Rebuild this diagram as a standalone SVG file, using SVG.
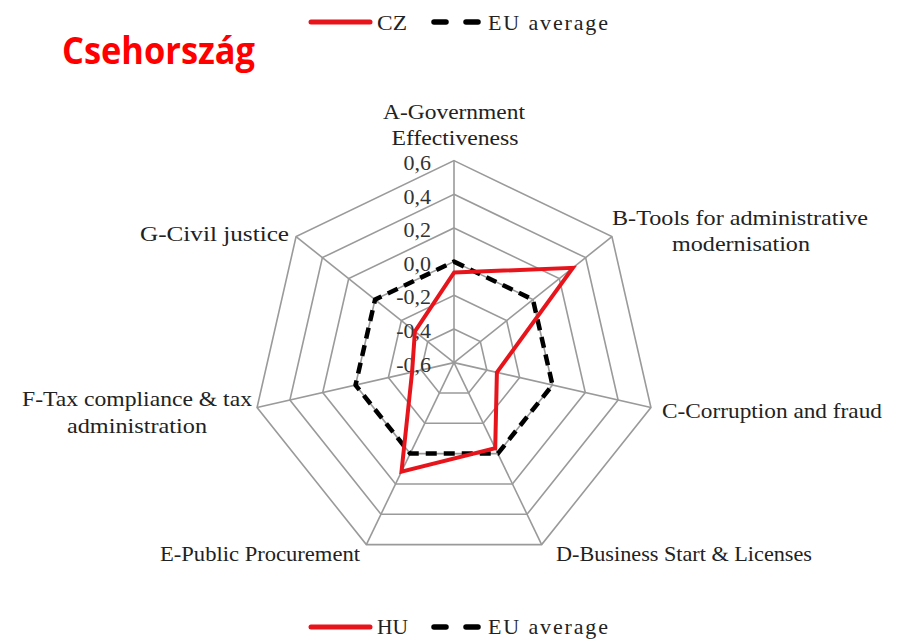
<svg xmlns="http://www.w3.org/2000/svg" width="899" height="639" viewBox="0 0 899 639">
<style>
.grid{fill:none;stroke:#9a9a9a;stroke-width:1.6;stroke-linejoin:miter}
.spoke{stroke:#9a9a9a;stroke-width:1.6}
.lbl{font-family:"Liberation Serif","Times New Roman",serif;font-size:22px;fill:#222}
.tick{font-family:"Liberation Serif","Times New Roman",serif;font-size:22px;fill:#333;text-anchor:end}
.eu{fill:none;stroke:#000;stroke-width:4.5;stroke-dasharray:11 7;stroke-linejoin:round}
.cz{fill:none;stroke:#e8141b;stroke-width:4;stroke-linejoin:miter}
</style>
<rect width="899" height="639" fill="#fff"/>
<g id="title"><text x="62" y="64" font-family="'Open Sans','Liberation Sans',sans-serif" font-weight="bold" font-size="37" fill="#ff0000" textLength="193" lengthAdjust="spacingAndGlyphs">Csehország</text></g>
<g id="legend-top">
<line x1="311" y1="22" x2="370" y2="22" stroke="#e8141b" stroke-width="5" stroke-linecap="round"/>
<text class="lbl" x="377" y="30" textLength="30" lengthAdjust="spacingAndGlyphs">CZ</text>
<line x1="434" y1="22" x2="446" y2="22" stroke="#000" stroke-width="5.5" stroke-linecap="round"/>
<line x1="466" y1="22" x2="478" y2="22" stroke="#000" stroke-width="5.5" stroke-linecap="round"/>
<text class="lbl" x="488" y="30" textLength="120" lengthAdjust="spacing">EU average</text>
</g>
<g id="grid">
<polygon class="grid" points="454,160.6 611.93,236.65 650.94,407.55 541.64,544.6 366.36,544.6 257.06,407.55 296.07,236.65"/>
<polygon class="grid" points="454,194.27 585.61,257.65 618.11,400.06 527.04,514.26 380.96,514.26 289.89,400.06 322.39,257.65"/>
<polygon class="grid" points="454,227.93 559.29,278.63 585.29,392.57 512.43,483.93 395.57,483.93 322.71,392.57 348.71,278.63"/>
<polygon class="grid" points="454,261.6 532.96,299.63 552.47,385.07 497.82,453.6 410.18,453.6 355.53,385.07 375.04,299.63"/>
<polygon class="grid" points="454,295.27 506.64,320.62 519.64,377.58 483.21,423.26 424.79,423.26 388.36,377.58 401.36,320.62"/>
<polygon class="grid" points="454,328.93 480.32,341.61 486.83,370.09 468.61,392.94 439.39,392.94 421.17,370.09 427.68,341.61"/>
<line class="spoke" x1="454" y1="362.6" x2="454" y2="160.6"/>
<line class="spoke" x1="454" y1="362.6" x2="611.93" y2="236.65"/>
<line class="spoke" x1="454" y1="362.6" x2="650.94" y2="407.55"/>
<line class="spoke" x1="454" y1="362.6" x2="541.64" y2="544.6"/>
<line class="spoke" x1="454" y1="362.6" x2="366.36" y2="544.6"/>
<line class="spoke" x1="454" y1="362.6" x2="257.06" y2="407.55"/>
<line class="spoke" x1="454" y1="362.6" x2="296.07" y2="236.65"/>
</g>
<g id="ticks">
<text class="tick" x="431" y="170">0,6</text>
<text class="tick" x="431" y="203.5">0,4</text>
<text class="tick" x="431" y="237">0,2</text>
<text class="tick" x="431" y="270.5">0,0</text>
<text class="tick" x="431" y="304">-0,2</text>
<text class="tick" x="431" y="338">-0,4</text>
<text class="tick" x="431" y="371.5">-0,6</text>
</g>
<g id="series">
<polygon id="eu-average" class="eu" points="454,261.6 532.96,299.63 552.47,385.07 497.82,453.6 410.18,453.6 355.53,385.07 375.04,299.63"/>
<polygon id="cz" class="cz" points="454,272.6 572.84,267.83 496.9,372.39 495.22,448.19 401.5,471.62 412.08,372.17 414.91,331.43"/>
</g>
<g id="axis-A"><text class="lbl" x="454" y="119" text-anchor="middle" textLength="142" lengthAdjust="spacingAndGlyphs">A-Government</text><text class="lbl" x="455" y="145" text-anchor="middle" textLength="127" lengthAdjust="spacingAndGlyphs">Effectiveness</text></g>
<g id="axis-B"><text class="lbl" x="612" y="225" textLength="256" lengthAdjust="spacingAndGlyphs">B-Tools for administrative</text><text class="lbl" x="672" y="251" textLength="138" lengthAdjust="spacingAndGlyphs">modernisation</text></g>
<g id="axis-C"><text class="lbl" x="662" y="418" textLength="220" lengthAdjust="spacingAndGlyphs">C-Corruption and fraud</text></g>
<g id="axis-D"><text class="lbl" x="556" y="561" textLength="256" lengthAdjust="spacingAndGlyphs">D-Business Start &amp; Licenses</text></g>
<g id="axis-E"><text class="lbl" x="160" y="561" textLength="200" lengthAdjust="spacingAndGlyphs">E-Public Procurement</text></g>
<g id="axis-F"><text class="lbl" x="22" y="406" textLength="230" lengthAdjust="spacingAndGlyphs">F-Tax compliance &amp; tax</text><text class="lbl" x="67" y="433" textLength="140" lengthAdjust="spacingAndGlyphs">administration</text></g>
<g id="axis-G"><text class="lbl" x="140" y="241" textLength="149" lengthAdjust="spacingAndGlyphs">G-Civil justice</text></g>
<g id="legend-bottom">
<line x1="311" y1="627" x2="370" y2="627" stroke="#e8141b" stroke-width="5" stroke-linecap="round"/>
<text class="lbl" x="377" y="634" font-size="21" textLength="31" lengthAdjust="spacingAndGlyphs">HU</text>
<line x1="434" y1="627" x2="446" y2="627" stroke="#000" stroke-width="5.5" stroke-linecap="round"/>
<line x1="466" y1="627" x2="478" y2="627" stroke="#000" stroke-width="5.5" stroke-linecap="round"/>
<text class="lbl" x="488" y="634" font-size="21" textLength="120" lengthAdjust="spacing">EU average</text>
</g>
</svg>
